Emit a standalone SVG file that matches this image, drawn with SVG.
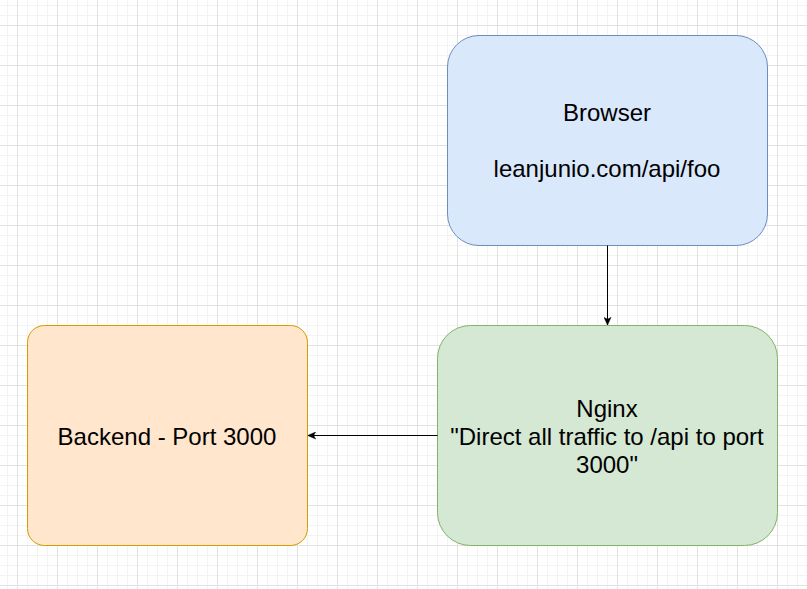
<svg xmlns="http://www.w3.org/2000/svg" width="807" height="589" viewBox="0 0 807 589">
  <defs>
    <pattern id="minor" x="7" y="5" width="10" height="10" patternUnits="userSpaceOnUse">
      <path d="M 0 0.5 H 10 M 0.5 0 V 10" fill="none" stroke="#f3f3f3" stroke-width="1"/>
    </pattern>
    <pattern id="major" x="17" y="25" width="40" height="40" patternUnits="userSpaceOnUse">
      <path d="M 0 0.5 H 40 M 0.5 0 V 40" fill="none" stroke="#e2e2e2" stroke-width="1"/>
    </pattern>
    <marker id="arrow" viewBox="0 0 10 10" refX="9" refY="5" markerWidth="8" markerHeight="8" markerUnits="userSpaceOnUse" orient="auto">
      <path d="M 0 0.5 L 10 5 L 0 9.5 L 2.5 5 Z" fill="#000" stroke="#000" stroke-width="0.5"/>
    </marker>
    <style>
      .label { font-family: "Liberation Sans", Arial, Helvetica, sans-serif; font-size: 24px; fill: #000; text-anchor: middle; }
      .edge { fill: none; stroke: #000; stroke-width: 1; }
    </style>
  </defs>
  <rect width="807" height="589" fill="#ffffff"/>
  <rect width="807" height="589" fill="url(#minor)"/>
  <rect width="807" height="589" fill="url(#major)"/>

  <g id="browser">
    <rect x="447.5" y="35.5" width="320" height="210" rx="31.5" ry="31.5" fill="#dae8fc" stroke="#6c8ebf" stroke-width="1"/>
    <text class="label" x="607" y="121">Browser</text>
    <text class="label" x="607" y="177">leanjunio.com/api/foo</text>
  </g>

  <g id="nginx">
    <rect x="437.5" y="325.5" width="340" height="220" rx="33" ry="33" fill="#d5e8d4" stroke="#82b366" stroke-width="1"/>
    <text class="label" x="607" y="416.5">Nginx</text>
    <text class="label" x="607" y="444.5">"Direct all traffic to /api to port</text>
    <text class="label" x="607" y="472.5">3000"</text>
  </g>

  <g id="backend">
    <rect x="27.5" y="325.5" width="280" height="220" rx="17" ry="17" fill="#ffe6cc" stroke="#d79b00" stroke-width="1"/>
    <text class="label" x="167" y="444.5">Backend - Port 3000</text>
  </g>

  <g id="connectors">
    <path class="edge" d="M 607.5 245.5 V 324.5" marker-end="url(#arrow)"/>
    <path class="edge" d="M 437.5 435.5 H 308.5" marker-end="url(#arrow)"/>
  </g>
</svg>
